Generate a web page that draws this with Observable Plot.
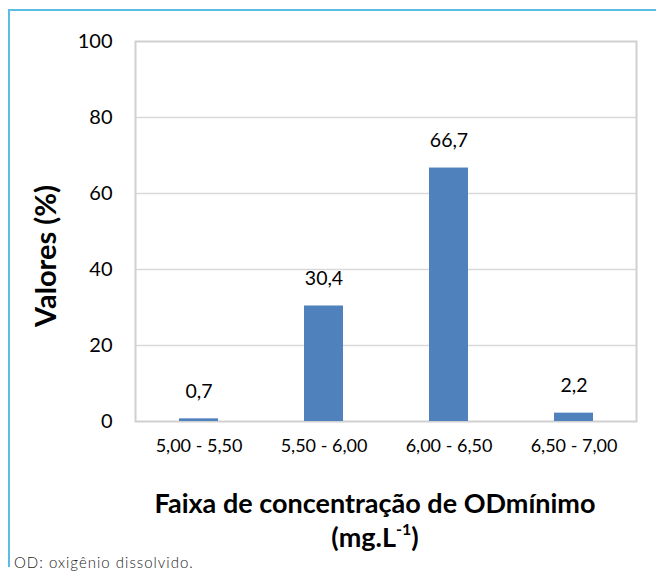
<!DOCTYPE html>
<html><head><meta charset="utf-8">
<script src="https://cdn.jsdelivr.net/npm/d3@7"></script>
<script src="https://cdn.jsdelivr.net/npm/@observablehq/plot@0.6"></script>
<style>
html,body{margin:0;padding:0;background:#fff;}
#wrap{position:relative;width:656px;height:573px;overflow:hidden;font-family:Lato,"Open Sans",sans-serif;}
#frame{position:absolute;left:8px;top:9px;width:660px;height:558px;border-top:2px solid #5bbde3;border-left:2px solid #5bbde3;box-sizing:border-box;}
#chart{position:absolute;left:0;top:0;}
#xt1,#xt2{position:absolute;left:75px;width:600px;text-align:center;font-weight:bold;font-size:27px;line-height:27px;color:#000;white-space:nowrap;}
#xt1{top:489px;}
#xt2{top:523px;}
#xt2 sup{font-size:16px;line-height:0;position:relative;top:-2px;}
#yt{position:absolute;left:45px;top:256px;width:300px;margin-left:-150px;margin-top:-17px;height:34px;line-height:34px;text-align:center;transform:rotate(-90deg);font-weight:bold;font-size:29px;color:#000;white-space:nowrap;}
#cap{position:absolute;left:14px;top:553px;font-size:15px;letter-spacing:1px;font-weight:300;color:#222;white-space:nowrap;}
</style></head>
<body>
<div id="wrap">
<div id="frame"></div>
<div id="chart"></div>
<div id="yt">Valores (%)</div>
<div id="xt1">Faixa de concentração de ODmínimo</div>
<div id="xt2">(mg.L<sup>-1</sup>)</div>
<div id="cap">OD: oxigênio dissolvido.</div>
</div>
<script>
const categories = ["5,00 - 5,50", "5,50 - 6,00", "6,00 - 6,50", "6,50 - 7,00"];
const values = [0.7, 30.4, 66.7, 2.2];
const labels = ["0,7", "30,4", "66,7", "2,2"];
const yTicks = [0, 20, 40, 60, 80, 100];

const data = categories.map((c, i) => ({cat: c, v: values[i], lab: labels[i]}));

const chart = Plot.plot({
  width: 656,
  height: 470,
  marginTop: 41,
  marginBottom: 49,
  marginLeft: 135,
  marginRight: 20,
  style: {fontFamily: "Lato, 'Open Sans', sans-serif", fontSize: "18px", color: "#000", background: "transparent"},
  x: {domain: categories, paddingInner: 0.69, paddingOuter: 0.345, label: null},
  y: {domain: [0, 100], label: null},
  marks: [
    Plot.gridY(yTicks.slice(1, -1), {stroke: "#d9d9d9", strokeOpacity: 1, strokeWidth: 1.5}),
    Plot.frame({stroke: "#d0d0d0", strokeWidth: 2}),
    Plot.axisY(yTicks, {tickSize: 0, tickPadding: 23, fontSize: 20, label: null}),
    Plot.axisX({tickSize: 0, tickPadding: 18, fontSize: 18, label: null}),
    Plot.barY(data, {x: "cat", y: "v", fill: "#4f81bd"}),
    Plot.text(data, {x: "cat", y: "v", text: "lab", dy: -27, fontSize: 19.5, fill: "#000"})
  ]
});
document.getElementById("chart").appendChild(chart);
</script>
</body></html>
